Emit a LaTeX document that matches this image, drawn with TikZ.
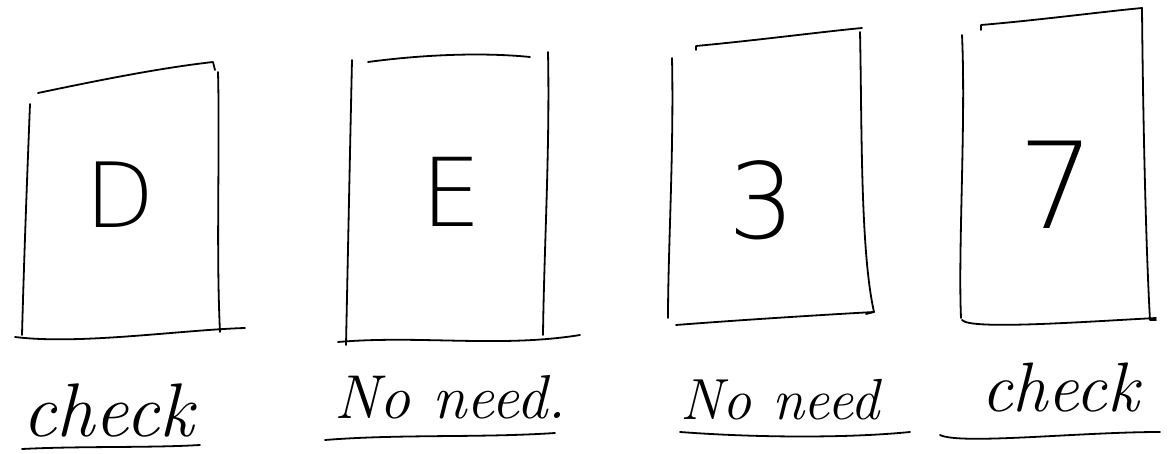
\documentclass[tikz,border=0pt]{standalone}
\usepackage{fontspec}
\newfontfamily\thinfont{DejaVu Sans ExtraLight}
\begin{document}
\begin{tikzpicture}[x=1pt,y=-1pt,
  pen/.style={line width=1.8pt, line cap=round, line join=round},
  cardtext/.style={inner sep=0pt, font=\fontsize{#1}{#1}\selectfont\thinfont},
  lab/.style={inner sep=0pt, font=\fontsize{#1}{#1}\selectfont\itshape}]
\useasboundingbox[fill=white] (0,0) rectangle (1168,454);
% Card D
\draw[pen] (38,93) .. controls (100,80) and (160,68) .. (213,62) -- (215,70);
\draw[pen] (30,104) .. controls (27,180) and (24,260) .. (22,335);
\draw[pen] (218,72) .. controls (220,150) and (216,250) .. (220,332);
\draw[pen] (15,337) .. controls (80,345) and (180,330) .. (245,328);
\node[cardtext=90] (cD) at (120,195) {D};
% Card E
\draw[pen] (352,60) .. controls (350,150) and (348,250) .. (346,345);
\draw[pen] (368,62) .. controls (420,55) and (480,52) .. (530,57);
\draw[pen] (548,52) .. controls (550,150) and (544,250) .. (543,335);
\draw[pen] (338,342) .. controls (420,335) and (500,348) .. (580,335);
\node[cardtext=95] (cE) at (452,192) {E};
% Card 3
\draw[pen] (672,58) .. controls (674,150) and (668,250) .. (668,318);
\draw[pen] (696,50) -- (696,46) .. controls (760,40) and (820,32) .. (862,28);
\draw[pen] (860,32) .. controls (862,120) and (860,250) .. (874,312) -- (866,314);
\draw[pen] (676,325) .. controls (740,320) and (820,315) .. (874,312);
\node[cardtext=105] (c3) at (762,200) {3};
% Card 7
\draw[pen] (962,35) .. controls (966,120) and (958,250) .. (961,318);
\draw[pen] (981,30) -- (981,25) .. controls (1040,20) and (1100,12) .. (1142,8);
\draw[pen] (1142,8) .. controls (1143,120) and (1146,250) .. (1150,320) -- (1156,320);
\draw[pen] (962,320) .. controls (970,330) and (1080,322) .. (1156,318);
\node[cardtext=120] (c7) at (1057,185) {7};
% Labels
\node[lab=76, anchor=base] (l1) at (108,436) {check};
\draw[pen] (22,449) .. controls (80,446) and (150,448) .. (200,445);
\node[lab=62, anchor=base] (l2) at (450,418) {No need.};
\draw[pen] (325,440) .. controls (400,434) and (480,438) .. (555,433);
\node[lab=58, anchor=base] (l3) at (780,420) {No need};
\draw[pen] (680,432) .. controls (760,438) and (850,438) .. (910,432);
\node[lab=70, anchor=base] (l4) at (1060,412) {check};
\draw[pen] (940,435) .. controls (960,445) and (1080,432) .. (1160,432);
\end{tikzpicture}
\end{document}
